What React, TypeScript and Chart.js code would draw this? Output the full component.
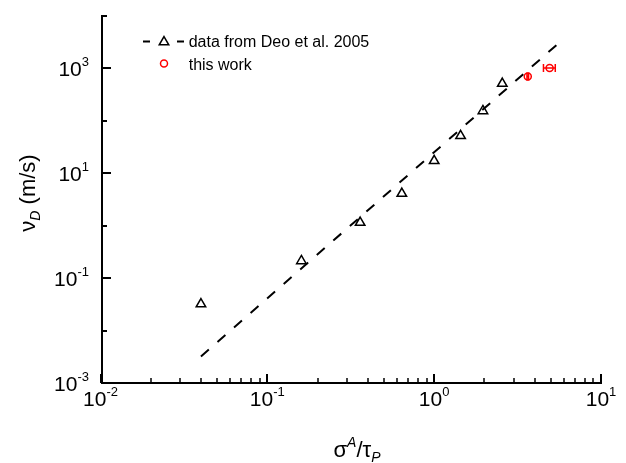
import { useEffect, useRef } from "react";
import { Chart, registerables } from "chart.js";

Chart.register(...registerables);

const FONT = '"Liberation Sans", Arial, sans-serif';

// Deo et al. 2005 data (triangles)
const deoX = [0.04, 0.16, 0.36, 0.64, 1.0, 1.44, 1.96, 2.56];
const deoY = [0.032, 0.213, 1.15, 4.1, 17.3, 51.8, 155, 515];
// dashed fit line endpoints
const fitX = [0.04, 5.43];
const fitY = [0.0032, 2820];
// this work (red circles) with horizontal error
const workX = [3.64, 4.92];
const workY = [700, 1014];
const workXErr = [0.04, 0.4];

// axis ticks
const xMajorTicks = [0.01, 0.1, 1, 10];
const xTickExps = ["-2", "-1", "0", "1"];
const yMajorTicks = [1e-3, 1e-1, 1e1, 1e3];
const yTickExps = ["-3", "-1", "1", "3"];
const yMinorTicks = [1e-2, 1, 1e2, 1e4];
const legendLabels = ["data from Deo et al. 2005", "this work"];

const RED = "#ff0000";

function drawPow(ctx: CanvasRenderingContext2D, exp: string, x: number, baseline: number, align: "right" | "center") {
  ctx.font = `21px ${FONT}`;
  const w1 = ctx.measureText("10").width;
  ctx.font = `13px ${FONT}`;
  const w2 = ctx.measureText(exp).width;
  const total = w1 + w2;
  const sx = align === "right" ? x - total : x - total / 2;
  ctx.textAlign = "left";
  ctx.textBaseline = "alphabetic";
  ctx.fillStyle = "#000";
  ctx.font = `21px ${FONT}`;
  ctx.fillText("10", sx, baseline);
  ctx.font = `13px ${FONT}`;
  ctx.fillText(exp, sx + w1, baseline - 10);
}

type Part = { t: string; font: string; dy: number };

function drawParts(ctx: CanvasRenderingContext2D, parts: Part[], cx: number, baseline: number) {
  let total = 0;
  const widths = parts.map((p) => {
    ctx.font = p.font;
    const w = ctx.measureText(p.t).width;
    total += w;
    return w;
  });
  let x = cx - total / 2;
  ctx.textAlign = "left";
  ctx.textBaseline = "alphabetic";
  ctx.fillStyle = "#000";
  parts.forEach((p, i) => {
    ctx.font = p.font;
    ctx.fillText(p.t, x, baseline + p.dy);
    x += widths[i];
  });
}

function triangle(ctx: CanvasRenderingContext2D, x: number, y: number, r: number) {
  ctx.beginPath();
  let rad = 0;
  ctx.moveTo(x + Math.sin(rad) * r, y - Math.cos(rad) * r);
  rad += (2 * Math.PI) / 3;
  ctx.lineTo(x + Math.sin(rad) * r, y - Math.cos(rad) * r);
  rad += (2 * Math.PI) / 3;
  ctx.lineTo(x + Math.sin(rad) * r, y - Math.cos(rad) * r);
  ctx.closePath();
  ctx.stroke();
}

const errorBarPlugin = {
  id: "errorBars",
  afterDatasetsDraw(chart: any) {
    const ctx: CanvasRenderingContext2D = chart.ctx;
    const xs = chart.scales.x;
    const ys = chart.scales.y;
    ctx.save();
    ctx.strokeStyle = RED;
    ctx.lineWidth = 1.5;
    workX.forEach((xv, i) => {
      const y = ys.getPixelForValue(workY[i]);
      const x1 = xs.getPixelForValue(xv - workXErr[i]);
      const x2 = xs.getPixelForValue(xv + workXErr[i]);
      ctx.beginPath();
      ctx.moveTo(x1, y);
      ctx.lineTo(x2, y);
      ctx.moveTo(x1, y - 4);
      ctx.lineTo(x1, y + 4);
      ctx.moveTo(x2, y - 4);
      ctx.lineTo(x2, y + 4);
      ctx.stroke();
    });
    ctx.restore();
  },
};

const axesPlugin = {
  id: "originAxes",
  afterDraw(chart: any) {
    const ctx: CanvasRenderingContext2D = chart.ctx;
    const xs = chart.scales.x;
    const ys = chart.scales.y;
    const area = chart.chartArea;
    const axX = Math.round(area.left) + 1;
    const axY = Math.round(area.bottom);
    const topY = Math.round(ys.getPixelForValue(1e4)) - 1;
    const rightX = Math.round(xs.getPixelForValue(10)) + 1;
    ctx.save();
    ctx.strokeStyle = "#000";
    ctx.lineCap = "butt";
    // axis lines
    ctx.lineWidth = 2;
    ctx.beginPath();
    ctx.moveTo(axX, topY);
    ctx.lineTo(axX, axY + 1);
    ctx.moveTo(axX - 1, axY);
    ctx.lineTo(rightX, axY);
    ctx.stroke();

    // y ticks
    yMajorTicks.forEach((v) => {
      const y = Math.round(ys.getPixelForValue(v));
      ctx.beginPath();
      ctx.moveTo(axX, y);
      ctx.lineTo(axX + 9, y);
      ctx.stroke();
    });
    yMinorTicks.forEach((v) => {
      const y = Math.round(ys.getPixelForValue(v));
      ctx.beginPath();
      ctx.moveTo(axX, y);
      ctx.lineTo(axX + 5, y);
      ctx.stroke();
    });
    // x ticks
    xMajorTicks.forEach((v) => {
      const x = Math.round(xs.getPixelForValue(v));
      ctx.beginPath();
      ctx.moveTo(x, axY);
      ctx.lineTo(x, axY - 9);
      ctx.stroke();
    });
    ctx.lineWidth = 1.5;
    for (let d = -2; d < 1; d++) {
      for (let m = 2; m <= 9; m++) {
        const x = Math.round(xs.getPixelForValue(m * Math.pow(10, d)));
        ctx.beginPath();
        ctx.moveTo(x, axY);
        ctx.lineTo(x, axY - 5);
        ctx.stroke();
      }
    }

    // tick labels
    yMajorTicks.forEach((v, i) => {
      const y = ys.getPixelForValue(v);
      drawPow(ctx, yTickExps[i], 89, y + 8, "right");
    });
    xMajorTicks.forEach((v, i) => {
      const x = xs.getPixelForValue(v);
      drawPow(ctx, xTickExps[i], x, 406, "center");
    });

    // x title: σ^A/τ_P
    drawParts(
      ctx,
      [
        { t: "σ", font: `22px ${FONT}`, dy: 0 },
        { t: "A", font: `italic 14px ${FONT}`, dy: -10 },
        { t: "/τ", font: `22px ${FONT}`, dy: 0 },
        { t: "P", font: `italic 14px ${FONT}`, dy: 5 },
      ],
      357,
      457
    );

    // y title: ν_D (m/s)
    ctx.save();
    ctx.translate(35, 193);
    ctx.rotate(-Math.PI / 2);
    drawParts(
      ctx,
      [
        { t: "ν", font: `22px ${FONT}`, dy: 0 },
        { t: "D", font: `italic 14px ${FONT}`, dy: 5 },
        { t: " (m/s)", font: `22px ${FONT}`, dy: 0 },
      ],
      0,
      0
    );
    ctx.restore();

    // legend
    ctx.strokeStyle = "#000";
    ctx.lineWidth = 2;
    ctx.beginPath();
    ctx.moveTo(143, 41.5);
    ctx.lineTo(150, 41.5);
    ctx.moveTo(177, 41.5);
    ctx.lineTo(184, 41.5);
    ctx.stroke();
    ctx.lineWidth = 1.5;
    triangle(ctx, 164, 42, 5.5);
    ctx.strokeStyle = RED;
    ctx.beginPath();
    ctx.arc(164, 63.5, 3.5, 0, Math.PI * 2);
    ctx.stroke();
    ctx.fillStyle = "#000";
    ctx.font = `16px ${FONT}`;
    ctx.textAlign = "left";
    ctx.textBaseline = "alphabetic";
    ctx.fillText(legendLabels[0], 188.7, 47);
    ctx.fillText(legendLabels[1], 188.7, 69.5);
    ctx.restore();
  },
};

export default function App() {
  const ref = useRef<HTMLCanvasElement | null>(null);
  useEffect(() => {
    if (!ref.current) return;
    const chart = new Chart(ref.current, {
      type: "scatter",
      data: {
        datasets: [
          {
            label: "fit",
            data: fitX.map((x, i) => ({ x, y: fitY[i] })),
            showLine: true,
            borderColor: "#000",
            borderWidth: 2,
            borderDash: [10.5, 11.5],
            pointRadius: 0,
            fill: false,
          },
          {
            label: legendLabels[0],
            data: deoX.map((x, i) => ({ x, y: deoY[i] })),
            pointStyle: "triangle",
            pointRadius: 5.5,
            borderColor: "#000",
            borderWidth: 1.5,
            backgroundColor: "rgba(0,0,0,0)",
          },
          {
            label: legendLabels[1],
            data: workX.map((x, i) => ({ x, y: workY[i] })),
            pointStyle: "circle",
            pointRadius: 3.5,
            borderColor: RED,
            borderWidth: 1.5,
            backgroundColor: "rgba(0,0,0,0)",
          },
        ],
      },
      options: {
        animation: false,
        responsive: false,
        devicePixelRatio: 1,
        events: [],
        layout: { padding: { left: 100.5, right: 25, top: 16, bottom: 80 } },
        plugins: { legend: { display: false }, tooltip: { enabled: false } },
        scales: {
          x: { type: "logarithmic", min: 0.01, max: 10, display: false },
          y: { type: "logarithmic", min: 1e-3, max: 1e4, display: false },
        },
      },
      plugins: [errorBarPlugin, axesPlugin],
    });
    return () => chart.destroy();
  }, []);
  return (
    <div style={{ position: "absolute", left: 0, top: 0, width: 626, height: 463, background: "#fff" }}>
      <canvas ref={ref} width={626} height={463} style={{ display: "block" }} />
    </div>
  );
}
